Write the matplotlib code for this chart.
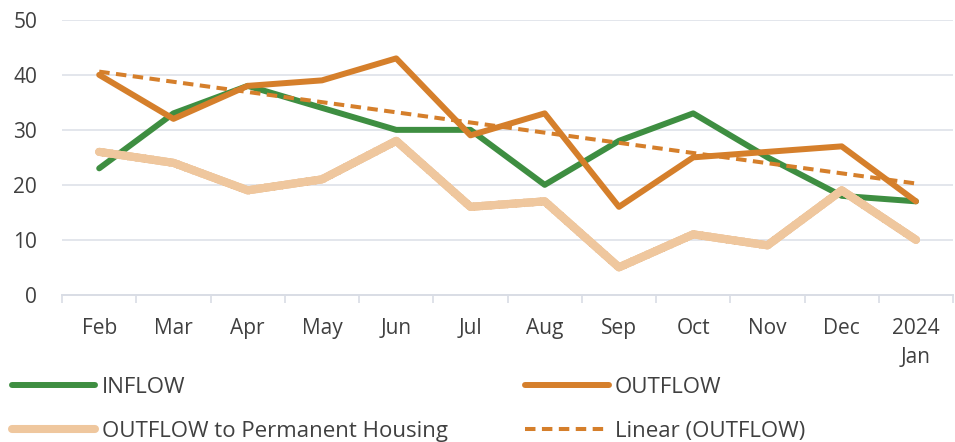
import numpy as np
import matplotlib.pyplot as plt
from matplotlib import patheffects as pe
from matplotlib.lines import Line2D

months = ["Feb", "Mar", "Apr", "May", "Jun", "Jul", "Aug", "Sep", "Oct", "Nov", "Dec", "2024\nJan"]
inflow = [23, 33, 38, 34, 30, 30, 20, 28, 33, 25, 18, 17]
outflow = [40, 32, 38, 39, 43, 29, 33, 16, 25, 26, 27, 17]
outflow_perm = [26, 24, 19, 21, 28, 16, 17, 5, 11, 9, 19, 10]

green = "#3E8E41"
orange = "#D57F2B"
tan = "#EFC79E"
tick_col = "#E2AD78"
txt = "#404040"

plt.rcParams["font.family"] = ["Open Sans", "DejaVu Sans"]

fig = plt.figure(figsize=(9.55, 4.42), dpi=100)
ax = fig.add_axes([0.065, 0.333, 0.933, 0.622])

x = np.arange(len(months))

# linear trend of outflow (like Excel's trendline)
coef = np.polyfit(x, outflow, 1)
trend = np.polyval(coef, x)

tick_fx = [pe.Stroke(linewidth=5.8, foreground=tan, alpha=0.9),
           pe.withTickedStroke(spacing=6, angle=90, length=0.45, linewidth=0.8, foreground=tick_col),
           pe.withTickedStroke(spacing=6, angle=-90, length=0.45, linewidth=0.8, foreground=tick_col)]

dash = (0, (2.6, 1.6))

ax.plot(x, inflow, color=green, lw=4.3, solid_capstyle="round", zorder=3)
ax.plot(x, outflow_perm, color=tan, lw=5.8, solid_capstyle="round", path_effects=tick_fx, zorder=3.5)
ax.plot(x, outflow, color=orange, lw=4.3, solid_capstyle="round", zorder=4)
ax.plot(x, trend, color=orange, lw=2.9, linestyle=dash, zorder=5)

ax.set_xlim(-0.5, len(months) - 0.5)
ax.set_ylim(0, 50)
ax.set_yticks(range(0, 51, 10))
ax.set_xticks(x)
ax.set_xticklabels(months, fontsize=15, color=txt, linespacing=1.45, va="top")
ax.set_xticks(np.arange(-0.5, len(months), 1), minor=True)
ax.tick_params(axis="x", which="major", length=0, pad=17)
ax.tick_params(axis="x", which="minor", length=6, color="#D9DDE5", width=1.2)
ax.tick_params(axis="y", length=0, labelsize=15, labelcolor=txt, pad=18)

ax.grid(axis="y", color="#E3E6EC", lw=1.4)
ax.set_axisbelow(True)
for s in ["top", "right", "left"]:
    ax.spines[s].set_visible(False)
ax.spines["bottom"].set_color("#D9DDE5")
ax.spines["bottom"].set_linewidth(1.4)

handles = [
    Line2D([], [], color=green, lw=4.3, solid_capstyle="round"),
    Line2D([], [], color=tan, lw=5.8, solid_capstyle="round"),
    Line2D([], [], color=orange, lw=4.3, solid_capstyle="round"),
    Line2D([], [], color=orange, lw=2.9, linestyle=dash),
]
labels = ["INFLOW", "OUTFLOW to Permanent Housing", "OUTFLOW", "Linear (OUTFLOW)"]
fig.legend(handles, labels, ncol=2, loc="upper left", bbox_to_anchor=(0.0126, 0.148),
           frameon=False, fontsize=16, handlelength=3.75, handletextpad=0.28,
           columnspacing=3.5, labelspacing=1.05, borderaxespad=0, borderpad=0,
           labelcolor=txt)

fig.savefig("out.png", dpi=100)
